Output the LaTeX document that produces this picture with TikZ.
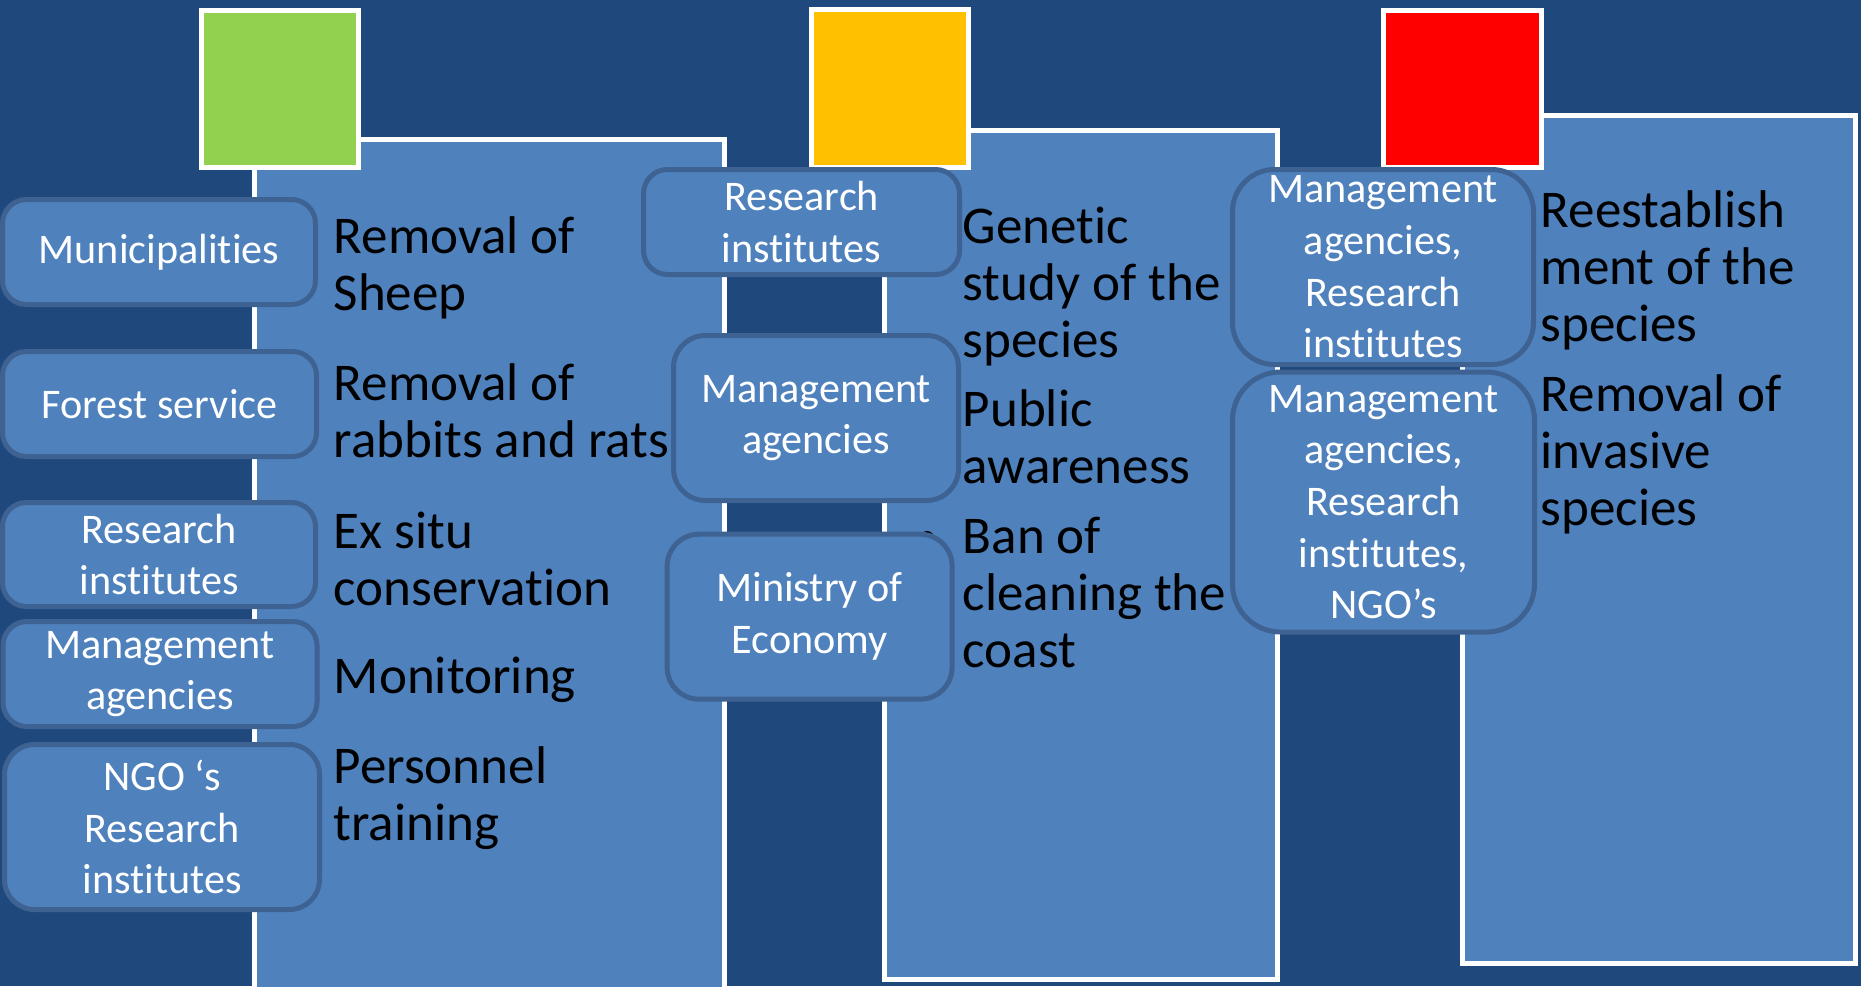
\documentclass[tikz,border=0pt]{standalone}
\usepackage{fontspec}
\setmainfont{Carlito}[Ligatures=NoCommon]
\usepackage{tikz}

\definecolor{slideblue}{RGB}{31,73,125}
\definecolor{panelblue}{RGB}{79,129,189}
\definecolor{boxline}{RGB}{62,99,146}
\definecolor{lowgreen}{RGB}{146,208,80}
\definecolor{midyellow}{RGB}{255,192,0}
\definecolor{highred}{RGB}{255,0,0}

\begin{document}
\begin{tikzpicture}[x=0.1mm,y=-0.1mm]
\tikzstyle{panel}=[draw=white,line width=0.5mm,fill=panelblue]
\tikzstyle{flag}=[draw=white,line width=0.5mm]
\tikzstyle{actor}=[draw=boxline,line width=0.5mm,fill=panelblue,rounded corners=2.4mm,text=white,align=center,inner sep=0pt,font=\fontsize{12}{14.7}\selectfont]
\tikzstyle{task}=[anchor=base west,align=left,inner sep=0pt,font=\fontsize{15.1}{16.2}\selectfont]

\useasboundingbox (0,0) rectangle (1861,986);
\fill[slideblue] (0,0) rectangle (1861,986);
\clip (0,0) rectangle (1861,986);

% panels
\draw[panel] (254.5,139.5) rectangle (724.5,1010);
\draw[panel] (884,130) rectangle (1277,979);
\draw[panel] (1462.5,115) rectangle (1855,963);

% flags
\draw[flag,fill=lowgreen] (201,10) rectangle (358.5,167.5);
\draw[flag,fill=midyellow] (811.5,9.5) rectangle (968.5,167.5);
\draw[flag,fill=highred] (1383.5,10) rectangle (1541,167);

% tasks (placed at the baseline of their last line)
\node[task] (sheep) at (333,310) {Removal of\\Sheep};
\node[task] (rabbits) at (333,457) {Removal of\\rabbits and rats};
\node[task] (exsitu) at (333,605) {Ex situ\\conservation};
\node[task] (monitor) at (333,693) {Monitoring};
\node[task] (training) at (333,840) {Personnel\\training};

\node[task] (genetic) at (962,357) {Genetic\\study of the\\species};
\node[task] (public) at (962,483) {Public\\awareness};
\node[task] (coast) at (962,667) {Ban of\\cleaning the\\coast};
\fill (927,538) circle[radius=0.7mm];

\node[task] (reest) at (1540,341) {Reestablish\\ment of the\\species};
\node[task] (invasive) at (1540,525) {Removal of\\invasive\\species};

% actors
\node[actor,minimum width=31.3mm,minimum height=10.5mm] (muni) at (159,252) {Municipalities};
\node[actor,minimum width=31.4mm,minimum height=10.5mm] (forest) at (159.5,404) {Forest service};
\node[actor,minimum width=31.3mm,minimum height=10.4mm] (resA) at (159,554.5) {Research\\institutes};
\node[actor,minimum width=31.4mm,minimum height=10.5mm] (mgmtA) at (160,674) {Management\\agencies};
\node[actor,minimum width=31.5mm,minimum height=16.5mm,rounded corners=3mm] (ngoA) at (162,827) {NGO ‘s\\Research\\institutes};

\node[actor,minimum width=31.6mm,minimum height=10.5mm] (resB) at (801.5,222) {Research\\institutes};
\node[actor,minimum width=28.5mm,minimum height=16.5mm,rounded corners=3.2mm] (mgmtB) at (816,418) {Management\\agencies};
\node[actor,minimum width=28.5mm,minimum height=16.5mm,rounded corners=3.2mm] (econ) at (809.6,616.7) {Ministry of\\Economy};

\node[actor,minimum width=30.1mm,minimum height=19.5mm,rounded corners=4.2mm] (mgmtC) at (1383,267) {Management\\agencies,\\Research\\institutes};
\node[actor,minimum width=30.2mm,minimum height=26mm,rounded corners=4.8mm] (ngoC) at (1383.5,502) {Management\\agencies,\\Research\\institutes,\\NGO’s};
\end{tikzpicture}
\end{document}
